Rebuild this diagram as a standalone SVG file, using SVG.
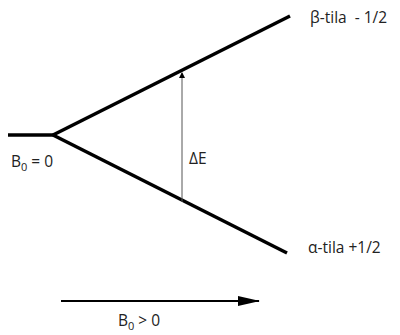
<svg xmlns="http://www.w3.org/2000/svg" width="400" height="335" viewBox="0 0 400 335">
<defs>
<style>
.thick{stroke:#000;stroke-width:3.5;fill:none}
.t{font-family:"Open Sans","Liberation Sans",sans-serif;font-size:15.5px;fill:#222;white-space:pre}
.s{font-size:11px}
</style>
<marker id="ah" markerWidth="6" markerHeight="6" refX="5" refY="3" orient="auto" markerUnits="userSpaceOnUse"><path d="M0,0 L6,3 L0,6 Z" fill="#000"/></marker>
<marker id="ah2" markerWidth="22" markerHeight="10" refX="21" refY="5" orient="auto" markerUnits="userSpaceOnUse"><path d="M0,0 L22,5 L0,10 Z" fill="#000"/></marker>
</defs>
<g id="levels">
<line class="thick" x1="8" y1="135" x2="54" y2="135"/>
<line class="thick" x1="53" y1="135" x2="290" y2="16"/>
<line class="thick" x1="53" y1="135" x2="287" y2="253"/>
</g>
<g id="connectors">
<line x1="182" y1="202" x2="182" y2="73" stroke="#555" stroke-width="1" marker-end="url(#ah)"/>
<line x1="61" y1="301" x2="259" y2="301" stroke="#000" stroke-width="2" marker-end="url(#ah2)"/>
</g>
<g id="labels">
<text class="t" x="310" y="23" xml:space="preserve">β-tila  - 1/2</text>
<text class="t" x="308" y="253">α-tila +1/2</text>
<text class="t" x="189" y="164">ΔE</text>
<text class="t" x="11" y="167">B<tspan class="s" dy="4">0</tspan><tspan dy="-4"> = 0</tspan></text>
<text class="t" x="118" y="326">B<tspan class="s" dy="4">0</tspan><tspan dy="-4"> &gt; 0</tspan></text>
</g>
</svg>
